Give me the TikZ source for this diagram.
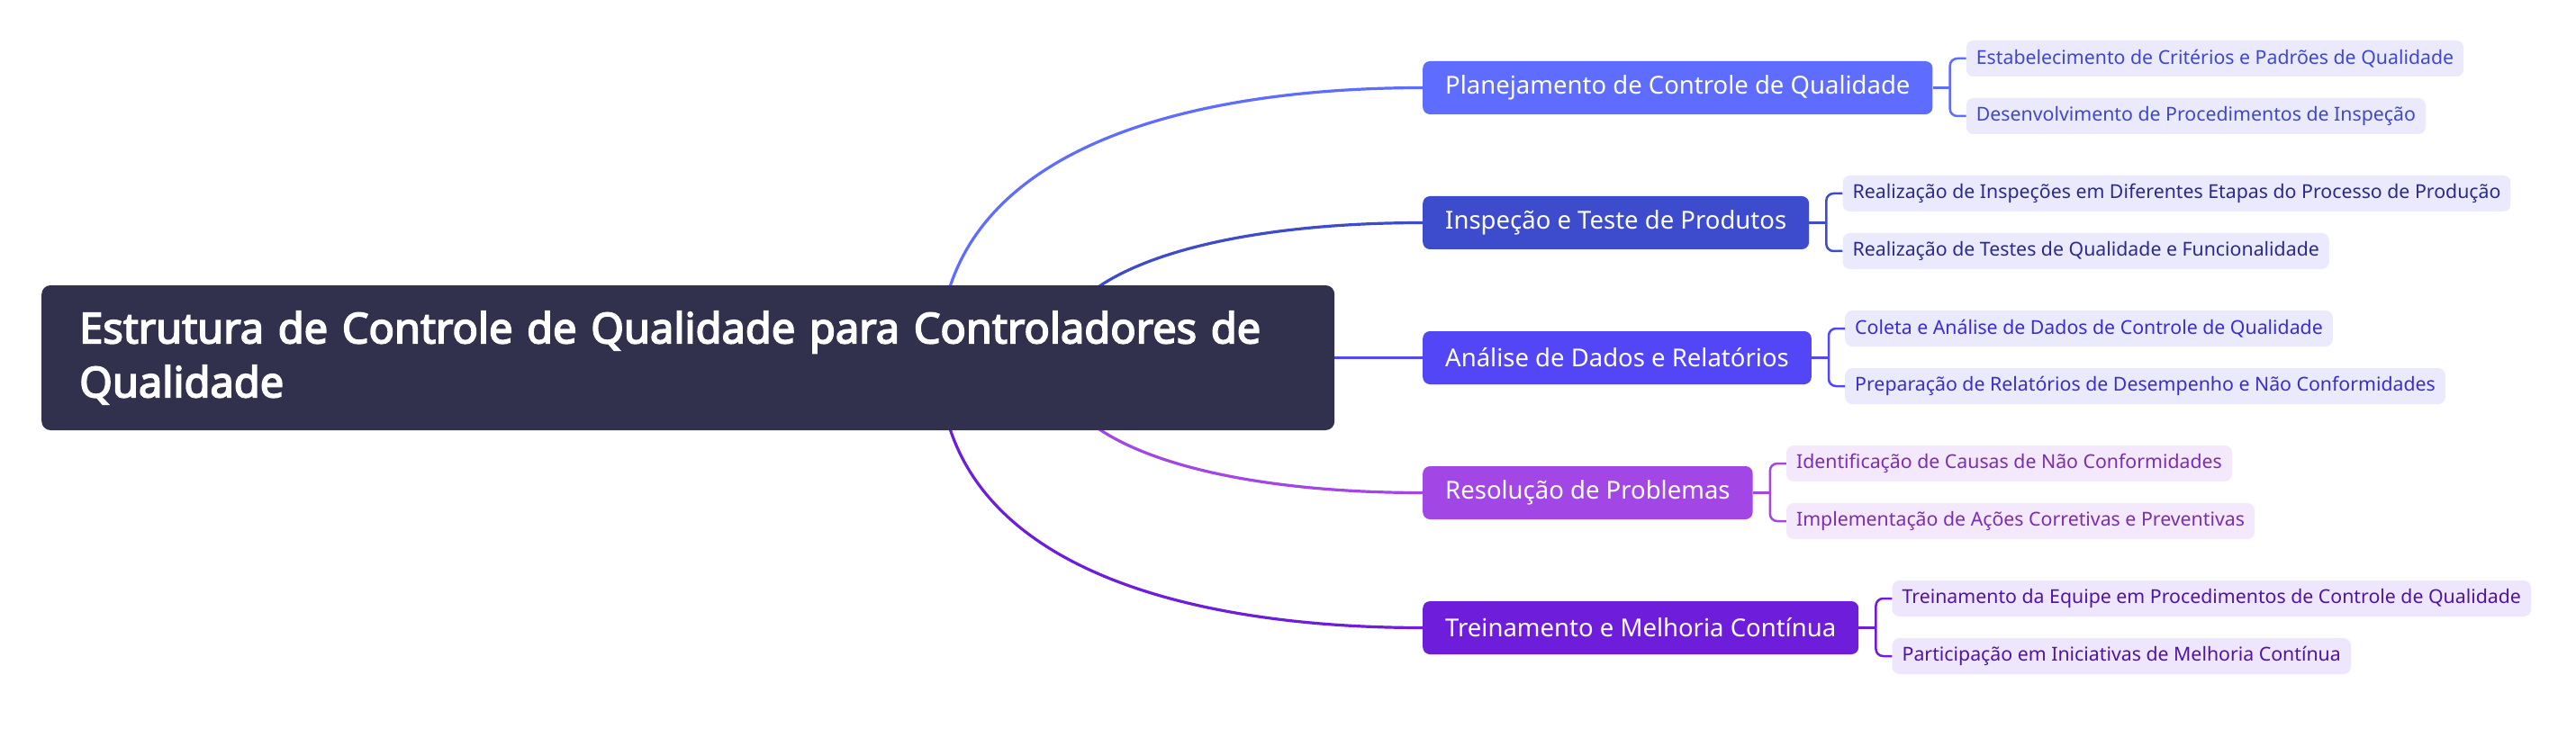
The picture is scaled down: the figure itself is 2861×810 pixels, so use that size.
\documentclass[tikz,border=0pt]{standalone}
\usepackage{fontspec}
\setmainfont{Noto Sans}
\newfontfamily\rootfont{Noto Sans}[FakeBold=3.5]
\usetikzlibrary{positioning,backgrounds}

\definecolor{rootfill}{RGB}{49,48,77}
\definecolor{planc}{RGB}{94,108,255}
\definecolor{inspc}{RGB}{61,75,205}
\definecolor{analc}{RGB}{82,70,247}
\definecolor{resoc}{RGB}{162,70,230}
\definecolor{treic}{RGB}{110,30,218}
\definecolor{bluebg}{RGB}{234,234,252}
\definecolor{lilacbg}{RGB}{243,232,252}
\definecolor{violetbg}{RGB}{238,230,252}
\definecolor{plantx}{RGB}{62,72,200}
\definecolor{insptx}{RGB}{42,42,140}
\definecolor{analtx}{RGB}{60,45,200}
\definecolor{resotx}{RGB}{125,45,175}
\definecolor{treitx}{RGB}{80,20,165}

\tikzset{
  rootbox/.style={fill=rootfill, text=white, rounded corners=10pt, anchor=west,
    font=\rootfont\fontsize{47}{60}\selectfont, align=left, text width=1352pt,
    minimum height=161pt, inner xsep=42pt},
  mainbox/.style={fill=#1, text=white, rounded corners=8pt, anchor=west,
    font=\fontsize{27.5}{32}\selectfont, minimum height=59pt, inner xsep=25pt},
  subbox/.style 2 args={fill=#1, text=#2, rounded corners=8pt, anchor=west,
    font=\fontsize{21.3}{25}\selectfont, minimum height=40pt, inner xsep=11pt},
  trunk/.style={draw=#1, line width=3.2pt},
  brace/.style={draw=#1, line width=2.5pt, rounded corners=8pt},
}

\begin{document}
\begin{tikzpicture}[x=1pt, y=-1pt]
  \useasboundingbox (0,0) rectangle (2861,810);
  % root
  \node[rootbox] (root) at (46,397.5)
    {Estrutura de Controle de Qualidade para Controladores de\\Qualidade};
  \coordinate (o1) at (1043,397.5);
  \coordinate (o2) at (1170,397.5);
  % main branches
  \node[mainbox=planc] (plan) at (1580,97.5) {Planejamento de Controle de Qualidade};
  \node[mainbox=inspc] (insp) at (1580,247.5) {Inspeção e Teste de Produtos};
  \node[mainbox=analc] (anal) at (1580,397.5) {Análise de Dados e Relatórios};
  \node[mainbox=resoc] (reso) at (1580,547.5) {Resolução de Problemas};
  \node[mainbox=treic] (trei) at (1580,697.5) {Treinamento e Melhoria Contínua};
  % leaves
  \node[subbox={bluebg}{plantx}] (plan1) at ([shift={(37,-32.5)}]plan.east)
    {Estabelecimento de Critérios e Padrões de Qualidade};
  \node[subbox={bluebg}{plantx}] (plan2) at ([shift={(37,31.5)}]plan.east)
    {Desenvolvimento de Procedimentos de Inspeção};
  \node[subbox={bluebg}{insptx}] (insp1) at ([shift={(37,-32.5)}]insp.east)
    {Realização de Inspeções em Diferentes Etapas do Processo de Produção};
  \node[subbox={bluebg}{insptx}] (insp2) at ([shift={(37,31.5)}]insp.east)
    {Realização de Testes de Qualidade e Funcionalidade};
  \node[subbox={bluebg}{analtx}] (anal1) at ([shift={(37,-32.5)}]anal.east)
    {Coleta e Análise de Dados de Controle de Qualidade};
  \node[subbox={bluebg}{analtx}] (anal2) at ([shift={(37,31.5)}]anal.east)
    {Preparação de Relatórios de Desempenho e Não Conformidades};
  \node[subbox={lilacbg}{resotx}] (reso1) at ([shift={(37,-32.5)}]reso.east)
    {Identificação de Causas de Não Conformidades};
  \node[subbox={lilacbg}{resotx}] (reso2) at ([shift={(37,31.5)}]reso.east)
    {Implementação de Ações Corretivas e Preventivas};
  \node[subbox={violetbg}{treitx}] (trei1) at ([shift={(37,-32.5)}]trei.east)
    {Treinamento da Equipe em Procedimentos de Controle de Qualidade};
  \node[subbox={violetbg}{treitx}] (trei2) at ([shift={(37,31.5)}]trei.east)
    {Participação em Iniciativas de Melhoria Contínua};
  % connectors
  \begin{pgfonlayer}{background}
    \draw[trunk=planc] (o1) .. controls +(0,-241.5) and +(-241,0) .. (plan.west);
    \draw[trunk=inspc] (o2) .. controls +(0,-97.5) and +(-230,0) .. (insp.west);
    \draw[trunk=analc] (root.east) -- (anal.west);
    \draw[trunk=resoc] (o2) .. controls +(0,97.5) and +(-230,0) .. (reso.west);
    \draw[trunk=treic] (o1) .. controls +(0,241.5) and +(-241,0) .. (trei.west);
  \end{pgfonlayer}
  \foreach \m/\c in {plan/planc, insp/inspc, anal/analc, reso/resoc, trei/treic} {
    \draw[brace=\c] (\m.east) -- ++(19,0);
    \draw[brace=\c] (\m1.west) -- ++(-18,0) |- (\m2.west);
  }
\end{tikzpicture}
\end{document}
